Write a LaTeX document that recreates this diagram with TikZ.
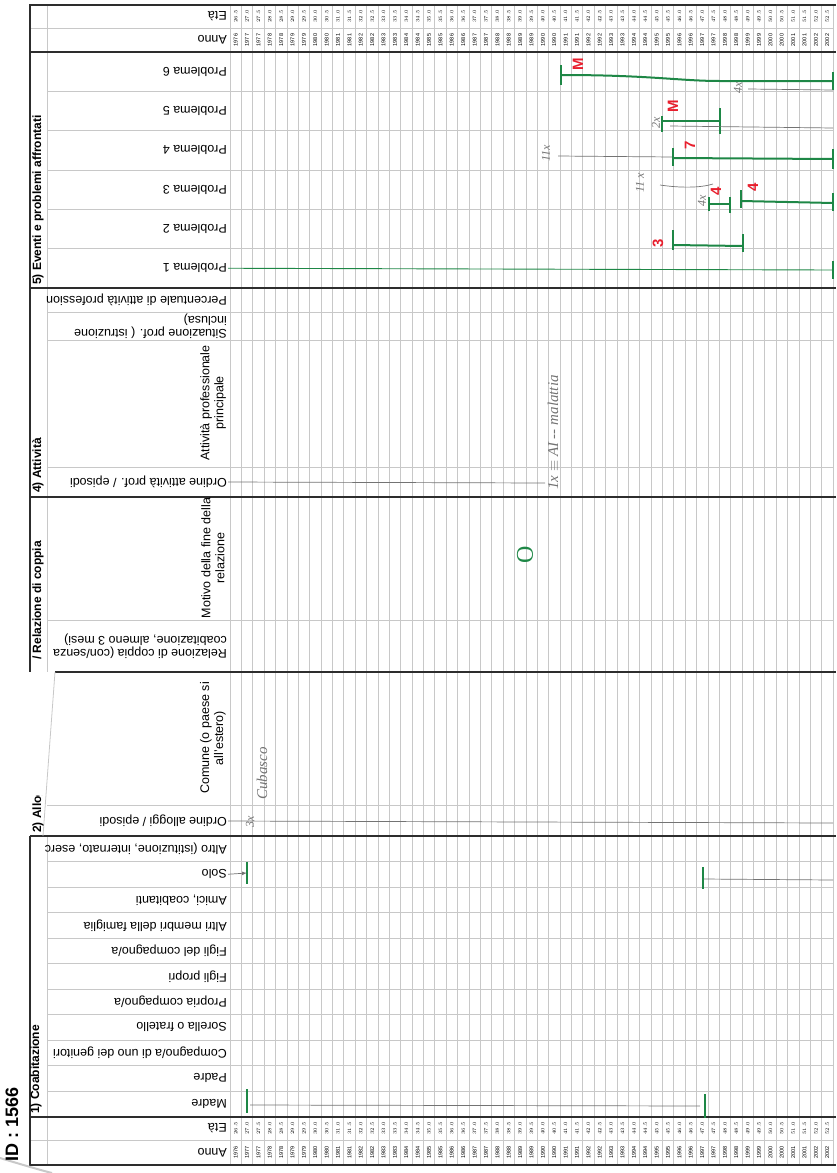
\documentclass[tikz,border=0pt]{standalone}
\usepackage{fontspec}
\setmainfont{Liberation Sans}
\newfontfamily\handfont{Liberation Serif}
\usetikzlibrary{positioning,calc}
\definecolor{pen}{RGB}{30,135,70}
\definecolor{redpen}{RGB}{232,30,45}
\definecolor{pencil}{RGB}{115,115,115}
\definecolor{gridline}{RGB}{200,200,200}
\definecolor{framecol}{RGB}{45,45,45}
\tikzset{
  rowlab/.style={rotate=180, anchor=west, inner sep=1pt, align=left, font=\fontsize{12.5}{13.5}\selectfont},
  bighead/.style={rotate=90, align=center, font=\fontsize{12.5}{14}\selectfont},
  sectitle/.style={rotate=90, anchor=west, inner sep=0pt, font=\bfseries\fontsize{12}{13}\selectfont},
  tinynum/.style={rotate=90, inner sep=0pt, font=\fontsize{5.5}{6}\selectfont},
  frameline/.style={framecol, line width=1.6pt},
  gridrule/.style={gridline, line width=0.6pt},
  greenbar/.style={pen, line width=2pt},
  greentick/.style={pen, line width=2.4pt},
  pencilline/.style={pencil, line width=0.7pt},
  redmark/.style={redpen, rotate=90, inner sep=0pt, font=\bfseries\fontsize{15}{15}\selectfont},
  handnote/.style={pencil, rotate=90, inner sep=0pt, font=\handfont\itshape\fontsize{12}{12}\selectfont},
}
\newcommand\gtick[3]{\draw[greentick] (#1,{#2-#3}) -- (#1,{#2+#3});}

\begin{document}
\begin{tikzpicture}[x=1pt,y=-1pt]
  \useasboundingbox (0,0) rectangle (836,1173);
  % grid
  \foreach \k in {0,...,53}
    \draw[gridrule] ({230+\k*11.377},5) -- ({230+\k*11.377},1165);
  \foreach \y in {91.3,130.7,170,209.3,248.7,312,340,467,620,805}
    \draw[gridrule] (47,\y) -- (833,\y);
  \foreach \i in {1,...,10}
    \draw[gridrule] (47,{836+25.5*\i}) -- (833,{836+25.5*\i});
  \draw[gridrule] (30,28) -- (833,28) (30,1140) -- (833,1140);
  \draw[gridrule] (47,5) -- (47,672) (47,836) -- (47,1165) (230,5) -- (230,1165);
  % frame
  \draw[frameline] (836,5) -- (30,5) -- (30,672);
  \draw[frameline] (30,836) -- (30,1165) -- (836,1165);
  \foreach \y in {52,288,497,836,1117}
    \draw[frameline] (30,\y) -- (836,\y);
  \draw[frameline] (55,672) -- (836,672);
  \draw[gridline, line width=0.8pt] (55,672) -- (43,836);
  \draw[gridline, line width=2pt] (0,1158) .. controls (20,1164) and (40,1170) .. (52,1173);

  % time axis
  \foreach \k in {0,...,52}{
    \pgfmathsetmacro\cx{230+(\k+0.5)*11.377}
    \pgfmathsetmacro\age{26.5+0.5*\k}
    \pgfmathtruncatemacro\yr{1976+floor((\k+1)/2)}
    \node[tinynum] (etaT-\k) at (\cx,16.5) {\pgfmathprintnumber[fixed,fixed zerofill,precision=1]{\age}};
    \node[tinynum] (annoT-\k) at (\cx,40) {\yr};
    \node[tinynum] (etaB-\k) at (\cx,1128.5) {\pgfmathprintnumber[fixed,fixed zerofill,precision=1]{\age}};
    \node[tinynum] (annoB-\k) at (\cx,1152.5) {\yr};
  }
  \node[rowlab] (etaT) at (228,16.5) {Età};
  \node[rowlab] (annoT) at (228,40) {Anno};
  \node[rowlab] (etaB) at (228,1128.5) {Età};
  \node[rowlab] (annoB) at (228,1152.5) {Anno};

  % sections
  \node[sectitle] (sec5) at (38,285) {5) Eventi e problemi affrontati};
  \foreach \n [count=\i from 0] in {6,5,4,3,2,1}
    \node[rowlab] (prob\n) at (228,{71.6+39.33*\i}) {Problema \n};

  \node[sectitle] (sec4) at (38,493) {4) Attività};
  \node[rowlab] (perc) at (228,300) {Percentuale di attività profession};
  \node[rowlab] (situaz) at (228,326) {Situazione prof. ( istruzione\\inclusa)};
  \node[bighead] (attprinc) at (213,403) {Attività professionale\\principale};
  \node[rowlab] (ordatt) at (228,482) {Ordine attività prof. / episodi};

  \node[sectitle] (sec3) at (38,660) {/ Relazione di coppia};
  \node[bighead] (motivo) at (213,558) {Motivo della fine della\\relazione};
  \node[rowlab] (relcop) at (228,646) {Relazione di coppia (con/senza\\coabitazione, almeno 3 mesi)};

  \begin{scope}
    \clip (30,795) rectangle (46,836);
    \node[sectitle] (sec2) at (38,833) {2) Alloggi};
  \end{scope}
  \node[bighead] (comune) at (213,738) {Comune (o paese si\\all'estero)};
  \node[rowlab] (ordall) at (228,821) {Ordine alloggi / episodi};

  \node[sectitle] (sec1) at (36,1114) {1) Coabitazione};
  \foreach \lab [count=\i from 0] in {{Altro (istituzione, internato, eserc},Solo,{Amici, coabitanti},
      Altri membri della famiglia,Figli del compagno/a,Figli propri,Propria compagno/a,
      Sorella o fratello,Compagno/a di uno dei genitori,Padre,Madre}
    \node[rowlab] (coab\i) at (228,{848.75+25.5*\i}) {\lab};

  \node[rotate=90, anchor=west, inner sep=0pt, font=\bfseries\fontsize{18}{18}\selectfont] (id) at (12,1162) {ID : 1566};

  % problema 6
  \coordinate (p6a) at (561,75); \coordinate (p6b) at (833,81);
  \draw[greenbar] (p6a) .. controls (650,75) and (680,81) .. (720,81) -- (p6b);
  \gtick{561}{75}{10} \gtick{833}{81}{9}
  \node[redmark] (m6) at (578,64) {M};
  \coordinate (q6a) at (748,89); \coordinate (q6b) at (833,90);
  \draw[pencilline] (q6a) -- (q6b);
  \node[handnote] (h6) at (738,88) {4x};
  % problema 5
  \coordinate (p5a) at (662,121); \coordinate (p5b) at (720,121);
  \draw[greenbar] (p5a) -- (p5b);
  \gtick{662}{124}{8} \gtick{720}{121}{13}
  \node[redmark] (m5) at (673,106) {M};
  \coordinate (q5a) at (670,126); \coordinate (q5b) at (833,128);
  \draw[pencilline] (q5a) -- (q5b);
  \node[handnote] (h5) at (656,123) {2x};
  % problema 4
  \coordinate (q4a) at (558,156); \coordinate (q4b) at (673,157);
  \draw[pencilline] (q4a) -- (q4b);
  \node[handnote] (h4) at (546,153) {11x};
  \coordinate (p4a) at (673,158); \coordinate (p4b) at (833,159);
  \draw[greenbar] (p4a) -- (p4b);
  \gtick{673}{157}{9} \gtick{833}{159}{10}
  \node[redmark] (m4) at (690,145) {7};
  % problema 3
  \node[handnote] (h3a) at (640,183) {11 x};
  \coordinate (q3a) at (660,185); \coordinate (q3b) at (713,184);
  \draw[pencilline] (q3a) .. controls (680,188) and (700,188) .. (q3b);
  \coordinate (p3a) at (709,204); \coordinate (p3b) at (730,204);
  \draw[greenbar] (p3a) -- (p3b);
  \gtick{709}{204}{7} \gtick{730}{205}{8}
  \node[handnote] (h3b) at (702,201) {4x};
  \node[redmark] (m3a) at (716,191) {4};
  \coordinate (p3c) at (741,201); \coordinate (p3d) at (833,203);
  \draw[greenbar] (p3c) -- (p3d);
  \gtick{741}{199}{9} \gtick{833}{202}{9}
  \node[redmark] (m3b) at (753,187) {4};
  % problema 2
  \node[redmark] (m2) at (658,243) {3};
  \coordinate (p2a) at (673,245); \coordinate (p2b) at (743,246);
  \draw[greenbar] (p2a) -- (p2b);
  \gtick{673}{240}{10} \gtick{743}{243}{9}
  % problema 1
  \coordinate (p1b) at (833,270);
  \draw[pen, line width=0.9pt] (prob1.west) -- (p1b);
  \gtick{833}{270}{9}

  % attivita
  \coordinate (q7b) at (545,483);
  \draw[pencilline] (ordatt.west) -- (q7b);
  \node[handnote, anchor=west, font=\handfont\itshape\fontsize{15}{15}\selectfont] (h7) at (553,490) {1x $\equiv$ AI -- malattia};
  % relazione
  \node[pen, rotate=90, font=\handfont\fontsize{24}{24}\selectfont] (h8) at (525,555) {O};

  % alloggi
  \coordinate (q9b) at (833,823);
  \draw[pencilline] (ordall.west) -- (q9b);
  \node[handnote] (h9) at (250,822) {3x};
  \node[handnote, anchor=west, font=\handfont\itshape\fontsize{15}{15}\selectfont] (h10) at (262,800) {Cubasco};

  % coabitazione
  \coordinate (s1) at (247,873);
  \draw[pencilline, -latex] (coab1.west) -- (s1);
  \gtick{247}{873}{11}
  \coordinate (s2) at (703,879); \coordinate (s3) at (833,880);
  \draw[pencilline] (s2) -- (s3);
  \gtick{703}{878}{11}
  \coordinate (md1) at (250,1105); \coordinate (md2) at (700,1106);
  \draw[pencilline] (md1) -- (md2);
  \gtick{247}{1101}{12} \gtick{705}{1106}{12}
\end{tikzpicture}
\end{document}
